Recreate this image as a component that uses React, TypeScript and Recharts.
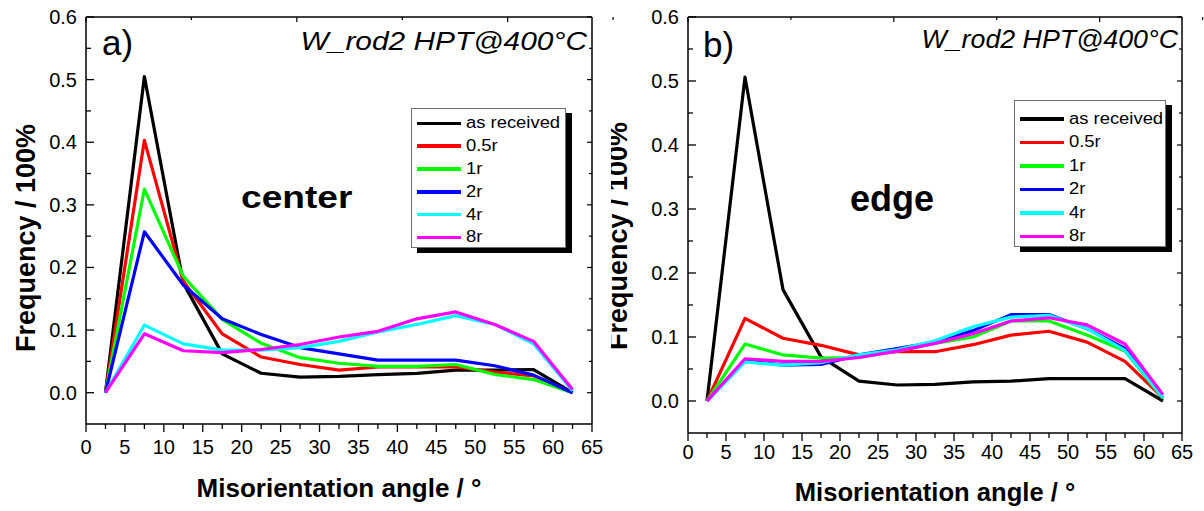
import { LineChart, Line, XAxis, YAxis, Legend } from "recharts";

const FONT = '"Liberation Sans", Arial, sans-serif';

const ANGLES = [2.5, 7.5, 12.5, 17.5, 22.5, 27.5, 32.5, 37.5, 42.5, 47.5, 52.5, 57.5, 62.5];

const SERIES_NAMES = ["as received", "0.5r", "1r", "2r", "4r", "8r"];
const SERIES_KEYS = ["asReceived", "r05", "r1", "r2", "r4", "r8"];
const SERIES_COLORS = ["#000000", "#ff0000", "#00ff00", "#0000ff", "#00ffff", "#ff00ff"];

// a) center
const CENTER_AS_RECEIVED = [0, 0.505, 0.175, 0.062, 0.031, 0.025, 0.026, 0.029, 0.031, 0.036, 0.036, 0.037, 0];
const CENTER_05R = [0, 0.403, 0.178, 0.094, 0.057, 0.045, 0.036, 0.041, 0.041, 0.041, 0.033, 0.027, 0];
const CENTER_1R = [0, 0.325, 0.186, 0.117, 0.079, 0.056, 0.047, 0.042, 0.042, 0.045, 0.029, 0.021, 0];
const CENTER_2R = [0, 0.257, 0.172, 0.118, 0.093, 0.072, 0.062, 0.052, 0.052, 0.052, 0.043, 0.028, 0];
const CENTER_4R = [0, 0.108, 0.078, 0.068, 0.068, 0.072, 0.082, 0.097, 0.109, 0.123, 0.109, 0.078, 0.003];
const CENTER_8R = [0, 0.094, 0.067, 0.064, 0.069, 0.077, 0.089, 0.098, 0.118, 0.129, 0.109, 0.082, 0.005];

// b) edge
const EDGE_AS_RECEIVED = [0, 0.506, 0.174, 0.069, 0.031, 0.025, 0.026, 0.03, 0.031, 0.035, 0.035, 0.035, 0];
const EDGE_05R = [0, 0.129, 0.098, 0.087, 0.072, 0.077, 0.077, 0.088, 0.103, 0.109, 0.092, 0.062, 0.005];
const EDGE_1R = [0, 0.089, 0.072, 0.067, 0.068, 0.078, 0.09, 0.1, 0.125, 0.125, 0.103, 0.078, 0.004];
const EDGE_2R = [0, 0.063, 0.056, 0.057, 0.072, 0.082, 0.092, 0.11, 0.135, 0.135, 0.113, 0.082, 0.005];
const EDGE_4R = [0, 0.061, 0.056, 0.06, 0.072, 0.08, 0.094, 0.116, 0.131, 0.134, 0.113, 0.079, 0.005];
const EDGE_8R = [0, 0.066, 0.062, 0.062, 0.068, 0.078, 0.09, 0.105, 0.125, 0.13, 0.119, 0.089, 0.01];

const X_TICKS = [0, 2.5, 5, 7.5, 10, 12.5, 15, 17.5, 20, 22.5, 25, 27.5, 30, 32.5, 35, 37.5, 40, 42.5, 45, 47.5, 50, 52.5, 55, 57.5, 60, 62.5, 65];
const Y_TICKS = [0, 0.05, 0.1, 0.15, 0.2, 0.25, 0.3, 0.35, 0.4, 0.45, 0.5, 0.55, 0.6];

const buildRows = (cols: number[][]) =>
  ANGLES.map((angle, i) => {
    const row: Record<string, number> = { angle };
    SERIES_KEYS.forEach((k, s) => (row[k] = cols[s][i]));
    return row;
  });

const centerData = buildRows([CENTER_AS_RECEIVED, CENTER_05R, CENTER_1R, CENTER_2R, CENTER_4R, CENTER_8R]);
const edgeData = buildRows([EDGE_AS_RECEIVED, EDGE_05R, EDGE_1R, EDGE_2R, EDGE_4R, EDGE_8R]);

const isMajorX = (v: number) => v % 5 === 0;
const isMajorY = (v: number) => Math.abs(v * 10 - Math.round(v * 10)) < 1e-6;

// ticks: left/top point into the plot, bottom points out, right points in
function BottomTick(props: any) {
  const { x, y, payload, gap } = props;
  const major = isMajorX(payload.value);
  return (
    <g>
      <line x1={x} y1={y} x2={x} y2={y + (major ? 8 : 5)} stroke="#000" strokeWidth={1.3} />
      {major && (
        <text x={x} y={y + gap} textAnchor="middle" fontSize={20} fontFamily={FONT} fill="#000">
          {payload.value}
        </text>
      )}
    </g>
  );
}

function LeftTick(props: any) {
  const { x, y, payload } = props;
  const major = isMajorY(payload.value);
  return (
    <g>
      <line x1={x} y1={y} x2={x + (major ? 8 : 5)} y2={y} stroke="#000" strokeWidth={1.3} />
      {major && (
        <text x={x - 9} y={y + 7} textAnchor="end" fontSize={20} fontFamily={FONT} fill="#000">
          {payload.value.toFixed(1)}
        </text>
      )}
    </g>
  );
}

function TopTick(props: any) {
  const { x, y, payload } = props;
  const major = isMajorX(payload.value);
  return <line x1={x} y1={y} x2={x} y2={y + (major ? 5 : 3)} stroke="#000" strokeWidth={1.2} />;
}

function RightTick(props: any) {
  const { x, y, payload } = props;
  const major = isMajorY(payload.value);
  return <line x1={x} y1={y} x2={x - (major ? 5 : 3)} y2={y} stroke="#000" strokeWidth={1.2} />;
}

function LegendBox({ payload, w, h, padTop, rowH }: any) {
  const items = [...(payload || [])].sort(
    (a: any, b: any) => SERIES_NAMES.indexOf(a.value) - SERIES_NAMES.indexOf(b.value)
  );
  return (
    <div
      style={{
        width: w,
        height: h,
        boxSizing: "border-box",
        border: "1px solid #707070",
        background: "#fff",
        boxShadow: "6px 5px 0 #000",
        paddingTop: padTop,
      }}
    >
      {items.map((e: any) => (
        <div key={e.value} style={{ display: "flex", alignItems: "center", height: rowH }}>
          <div style={{ marginLeft: 5, width: 44, height: 3.5, background: e.color }} />
          <span
            style={{
              marginLeft: 5,
              fontFamily: FONT,
              fontSize: 16,
              lineHeight: "16px",
              display: "inline-block",
              transform: "scaleX(1.15)",
              transformOrigin: "left center",
              whiteSpace: "nowrap",
            }}
          >
            {e.value}
          </span>
        </div>
      ))}
    </div>
  );
}

function Panel({ data, width, margin, gap, legend }: any) {
  const axisLine = { stroke: "#000", strokeWidth: 1.5 };
  return (
    <LineChart width={width} height={511} data={data} margin={margin}>
      <XAxis
        dataKey="angle"
        type="number"
        domain={[0, 65]}
        ticks={X_TICKS}
        interval={0}
        height={40}
        tickSize={0}
        tickMargin={0}
        axisLine={axisLine}
        tickLine={false}
        tick={(p: any) => <BottomTick {...p} gap={gap} />}
      />
      <XAxis
        xAxisId="top"
        orientation="top"
        type="number"
        domain={[0, 65]}
        allowDataOverflow
        ticks={X_TICKS}
        interval={0}
        height={1}
        tickSize={0}
        tickMargin={0}
        axisLine={axisLine}
        tickLine={false}
        tick={(p: any) => <TopTick {...p} />}
      />
      <YAxis
        type="number"
        domain={[-0.05, 0.6]}
        allowDataOverflow
        ticks={Y_TICKS}
        interval={0}
        width={40}
        tickSize={0}
        tickMargin={0}
        axisLine={axisLine}
        tickLine={false}
        tick={(p: any) => <LeftTick {...p} />}
      />
      <YAxis
        yAxisId="right"
        orientation="right"
        type="number"
        domain={[-0.05, 0.6]}
        allowDataOverflow
        ticks={Y_TICKS}
        interval={0}
        width={1}
        tickSize={0}
        tickMargin={0}
        axisLine={axisLine}
        tickLine={false}
        tick={(p: any) => <RightTick {...p} />}
      />
      <Legend
        layout="vertical"
        align="center"
        verticalAlign="middle"
        wrapperStyle={{ left: legend.left, top: legend.top, width: legend.w, height: legend.h }}
        content={(p: any) => <LegendBox payload={p.payload} {...legend} />}
      />
      {SERIES_KEYS.map((k, i) => (
        <Line
          key={k}
          type="linear"
          dataKey={k}
          name={SERIES_NAMES[i]}
          stroke={SERIES_COLORS[i]}
          strokeWidth={3.2}
          strokeLinejoin="round"
          dot={false}
          activeDot={false}
          isAnimationActive={false}
        />
      ))}
    </LineChart>
  );
}

function T({ x, y, size, sx = 1, anchor = "start", weight = "normal", italic = false, rotate = 0, children }: any) {
  return (
    <text
      transform={`translate(${x},${y}) rotate(${rotate}) scale(${sx},1)`}
      textAnchor={anchor}
      fontSize={size}
      fontWeight={weight}
      fontStyle={italic ? "italic" : "normal"}
      fontFamily={FONT}
      fill="#000"
    >
      {children}
    </text>
  );
}

export default function App() {
  return (
    <div style={{ position: "absolute", left: 0, top: 0, width: 1204, height: 511, background: "#fff", overflow: "hidden" }}>
      <div style={{ position: "absolute", left: 0, top: 0 }}>
        <Panel
          data={centerData}
          width={620}
          margin={{ top: 16, right: 27, bottom: 47, left: 46 }}
          gap={30}
          legend={{ left: 411, top: 108, w: 155, h: 140, padTop: 3, rowH: 22.8 }}
        />
      </div>
      <div style={{ position: "absolute", left: 600, top: 0 }}>
        <Panel
          data={edgeData}
          width={604}
          margin={{ top: 16, right: 21, bottom: 38, left: 48 }}
          gap={26}
          legend={{ left: 414, top: 100, w: 152, h: 147, padTop: 6, rowH: 23.5 }}
        />
      </div>
      <svg width={1204} height={511} style={{ position: "absolute", left: 0, top: 0, pointerEvents: "none" }}>
        <defs>
          <clipPath id="clipB">
            <rect x={611} y={0} width={600} height={511} />
          </clipPath>
        </defs>
        <T x={102} y={55} size={35}>a)</T>
        <T x={587} y={50} size={26} sx={1.15} anchor="end" italic>W_rod2 HPT@400°C</T>
        <T x={241} y={208} size={32} sx={1.16} weight="bold">center</T>
        <T x={339} y={497} size={26} anchor="middle" weight="bold">Misorientation angle / °</T>
        <T x={35} y={238} size={27} anchor="middle" weight="bold" rotate={-90}>Frequency / 100%</T>

        <T x={703} y={57} size={35}>b)</T>
        <T x={1178} y={48} size={26} sx={1.03} anchor="end" italic>W_rod2 HPT@400°C</T>
        <T x={850} y={211} size={36} weight="bold">edge</T>
        <T x={935} y={501} size={25.6} anchor="middle" weight="bold">Misorientation angle / °</T>
        <g clipPath="url(#clipB)">
          <T x={627} y={236} size={27} anchor="middle" weight="bold" rotate={-90}>Frequency / 100%</T>
        </g>
      </svg>
    </div>
  );
}
